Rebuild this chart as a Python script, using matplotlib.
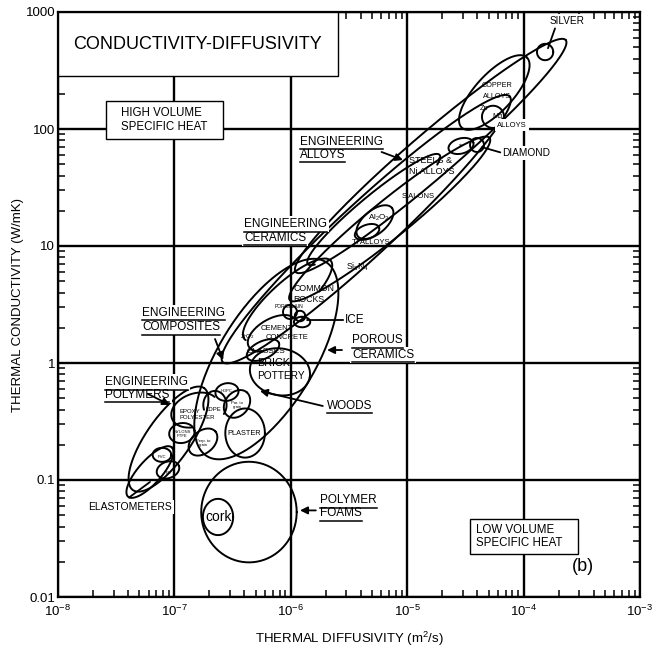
import numpy as np
import matplotlib
matplotlib.use("Agg")
import matplotlib.pyplot as plt
from matplotlib.patches import Rectangle
from matplotlib.lines import Line2D
from matplotlib.ticker import LogLocator, FixedLocator, FixedFormatter, NullFormatter

plt.rcParams["font.family"] = ["Liberation Sans", "DejaVu Sans"]
plt.rcParams["mathtext.fontset"] = "custom"
plt.rcParams["mathtext.rm"] = "Liberation Sans"
plt.rcParams["mathtext.it"] = "Liberation Sans:italic"

# ---- axis ranges and tick labels ----
x_ticks = [1e-8, 1e-7, 1e-6, 1e-5, 1e-4, 1e-3]
x_tick_labels = ["$10^{-8}$", "$10^{-7}$", "$10^{-6}$", "$10^{-5}$", "$10^{-4}$", "$10^{-3}$"]
y_ticks = [0.01, 0.1, 1, 10, 100, 1000]
y_tick_labels = ["0.01", "0.1", "1", "10", "100", "1000"]

# ---- elongated envelopes: (diffusivity, conductivity) at both ends, half-width in decades ----
env_names = ["alloys", "composites", "ceramics", "porous", "polymers", "elastomers", "rocks", "steels"]
env_a1 = [1.1e-6, 2.6e-7, 9.8e-7, 1.9e-7, 4.4e-8, 4.0e-8, 4.0e-7, 1.4e-6]
env_k1 = [6.0, 1.02, 3.45, 0.16, 0.082, 0.072, 1.6, 7.0]
env_a2 = [2.3e-4, 7.6e-5, 5.1e-5, 2.0e-6, 1.8e-7, 9.5e-8, 2.2e-6, 1.9e-5]
env_k2 = [576.0, 190.0, 84.0, 7.3, 0.61, 0.19, 7.5, 60.0]
env_hw = [0.19, 0.23, 0.16, 0.41, 0.19, 0.10, 0.15, 0.12]
env_arc = [(0, 360), (0, 360), (0, 360), (0, 360), (0, 360), (0, 360), (-60, 185), (-25, 200)]

# ---- single-material bubbles: centre, semi-axes (decades), tilt ----
bub_names = ["silver", "copper", "mg", "sic", "diamond", "al2o3", "ti",
             "brick", "glasses", "cement", "porcelain1", "porcelain2", "ice",
             "pvc", "ps", "nylon", "epoxy", "ldpe", "hdpe", "par", "perp", "plaster",
             "foams", "cork"]
bub_a = [1.53e-4, 5.6e-5, 5.46e-5, 2.9e-5, 3.98e-5, 5.28e-6, 4.52e-6,
         8.07e-7, 5.77e-7, 6.89e-7, 9.84e-7, 1.2e-6, 1.25e-6,
         7.82e-8, 8.81e-8, 1.16e-7, 1.50e-7, 2.23e-7, 2.83e-7, 3.45e-7, 1.76e-7, 4.05e-7,
         4.37e-7, 2.37e-7]
bub_k = [455.0, 205.0, 127.0, 71.6, 73.0, 16.0, 13.2,
         0.84, 1.29, 1.80, 2.73, 2.52, 2.24,
         0.164, 0.122, 0.252, 0.396, 0.438, 0.565, 0.447, 0.211, 0.252,
         0.0532, 0.0483]
bub_ra = [0.07, 0.41, 0.095, 0.11, 0.06, 0.19, 0.11,
          0.26, 0.15, 0.23, 0.06, 0.045, 0.045,
          0.08, 0.10, 0.11, 0.21, 0.10, 0.10, 0.13, 0.14, 0.17,
          0.41, 0.13]
bub_rb = [0.07, 0.16, 0.095, 0.065, 0.06, 0.10, 0.06,
          0.20, 0.075, 0.12, 0.06, 0.045, 0.07,
          0.06, 0.07, 0.085, 0.14, 0.12, 0.075, 0.10, 0.095, 0.21,
          0.43, 0.155]
bub_tilt = [0, 47, 0, 15, 0, 40, 20,
            -10, 25, 30, 0, 0, 90,
            0, 20, 10, 20, 0, 10, 50, 40, 0,
            0, 0]
bub_arc = [(0, 360)] * len(bub_names)
bub_arc[bub_names.index("epoxy")] = (20, 250)
bub_arc[bub_names.index("ldpe")] = (-40, 200)
bub_arc[bub_names.index("cement")] = (0, 230)

LW = 1.4


def log_ellipse(ax, xc, yc, a, b, tilt, arc=(0, 360)):
    t = np.radians(np.linspace(arc[0], arc[1], 240))
    c, s = np.cos(np.radians(tilt)), np.sin(np.radians(tilt))
    u, v = a * np.cos(t), b * np.sin(t)
    lx = np.log10(xc) + u * c - v * s
    ly = np.log10(yc) + u * s + v * c
    ax.plot(10 ** lx, 10 ** ly, color="black", lw=LW, zorder=4, solid_capstyle="round")


def envelope(ax, a1, k1, a2, k2, hw, arc):
    x1, y1, x2, y2 = np.log10([a1, k1, a2, k2])
    xc, yc = (x1 + x2) / 2, (y1 + y2) / 2
    half = np.hypot(x2 - x1, y2 - y1) / 2
    tilt = np.degrees(np.arctan2(y2 - y1, x2 - x1))
    log_ellipse(ax, 10 ** xc, 10 ** yc, half, hw, tilt, arc)


fig = plt.figure(figsize=(6.67, 6.52), dpi=100)
ax = fig.add_axes([58 / 667, 1 - 597 / 652, 582 / 667, 585 / 652])
ax.set_xscale("log")
ax.set_yscale("log")
ax.set_xlim(1e-8, 1e-3)
ax.set_ylim(0.01, 1000)

ax.xaxis.set_major_locator(FixedLocator(x_ticks))
ax.xaxis.set_major_formatter(FixedFormatter(x_tick_labels))
ax.yaxis.set_major_locator(FixedLocator(y_ticks))
ax.yaxis.set_major_formatter(FixedFormatter(y_tick_labels))
ax.xaxis.set_minor_locator(LogLocator(base=10, subs=np.arange(2, 10)))
ax.yaxis.set_minor_locator(LogLocator(base=10, subs=np.arange(2, 10)))
ax.xaxis.set_minor_formatter(NullFormatter())
ax.yaxis.set_minor_formatter(NullFormatter())
ax.tick_params(which="major", length=0, labelsize=9.5)
ax.tick_params(axis="x", which="major", pad=5)
ax.tick_params(axis="y", which="major", pad=2)
ax.tick_params(which="minor", direction="in", length=5, width=1.1,
               top=True, right=True, bottom=True, left=True)
for sp in ax.spines.values():
    sp.set_linewidth(1.6)
ax.grid(True, which="major", color="black", lw=1.7)
ax.set_axisbelow(True)

ax.set_xlabel("THERMAL DIFFUSIVITY (m$^2$/s)", fontsize=9.5, labelpad=8)
ax.set_ylabel("THERMAL CONDUCTIVITY (W/mK)", fontsize=9.5, labelpad=1)

for i in range(len(env_names)):
    envelope(ax, env_a1[i], env_k1[i], env_a2[i], env_k2[i], env_hw[i], env_arc[i])
for i in range(len(bub_names)):
    log_ellipse(ax, bub_a[i], bub_k[i], bub_ra[i], bub_rb[i], bub_tilt[i], bub_arc[i])

T = ax.transAxes
WHITE = dict(facecolor="white", edgecolor="none", pad=1.5)

# boxed captions
ax.add_patch(Rectangle((0, 0.8906), 0.481, 0.1094, transform=T, facecolor="white",
                       edgecolor="black", lw=1.0, zorder=6))
ax.text(0.2405, 0.9436, "CONDUCTIVITY-DIFFUSIVITY", transform=T, fontsize=13,
        ha="center", va="center", zorder=7)
ax.add_patch(Rectangle((0.0825, 0.7829), 0.201, 0.065, transform=T, facecolor="white",
                       edgecolor="black", lw=1.0, zorder=6))
ax.text(0.1082, 0.8154, "HIGH VOLUME\nSPECIFIC HEAT", transform=T, fontsize=8.3,
        ha="left", va="center", linespacing=1.15, zorder=7)
ax.add_patch(Rectangle((0.7079, 0.0735), 0.1856, 0.0598, transform=T, facecolor="white",
                       edgecolor="black", lw=1.0, zorder=6))
ax.text(0.7182, 0.1035, "LOW VOLUME\nSPECIFIC HEAT", transform=T, fontsize=8.3,
        ha="left", va="center", linespacing=1.15, zorder=7)
ax.text(0.902, 0.0513, "(b)", transform=T, fontsize=13, ha="center", va="center", zorder=7)

underlined = []


def label(x, y, s, size, bbox=True, under=False, ha="left"):
    t = ax.text(x, y, s, transform=T, fontsize=size, ha=ha, va="center", zorder=7,
                bbox=WHITE if bbox else None)
    if under:
        underlined.append(t)
    return t


def pointer(x, y, target, head=True):
    ax.annotate("", xy=target, xycoords="data", xytext=(x, y), textcoords=T,
                arrowprops=dict(arrowstyle="-|>" if head else "-", color="black",
                                lw=1.3, shrinkA=0, shrinkB=0, mutation_scale=11),
                zorder=8)


# group labels
label(0.4158, 0.7778, "ENGINEERING", 8.5, under=True)
label(0.4158, 0.7556, "ALLOYS", 8.5, under=True)
pointer(0.5560, 0.7607, (9.2e-6, 54.3))
label(0.3196, 0.6376, "ENGINEERING", 8.5, under=True)
label(0.3196, 0.6137, "CERAMICS", 8.5, under=True)
label(0.1443, 0.4855, "ENGINEERING", 8.5, under=True)
label(0.1443, 0.4615, "COMPOSITES", 8.5, under=True)
pointer(0.2698, 0.4410, (2.62e-7, 1.06))
label(0.0808, 0.3675, "ENGINEERING", 8.5, under=True)
label(0.0808, 0.3453, "POLYMERS", 8.5, under=True)
pointer(0.1546, 0.3470, (9.16e-8, 0.438))
label(0.5052, 0.4393, "POROUS", 8.5, under=True)
label(0.5052, 0.4137, "CERAMICS", 8.5, under=True)
pointer(0.4880, 0.4222, (2.05e-6, 1.29))
label(0.4622, 0.3265, "WOODS", 8.5, under=True)
pointer(0.4550, 0.3265, (5.43e-7, 0.577))
label(0.4502, 0.1650, "POLYMER", 8.5, under=True)
label(0.4502, 0.1430, "FOAMS", 8.5, under=True)
pointer(0.4430, 0.1480, (1.2e-6, 0.055))
label(0.1959, 0.1538, "ELASTOMETERS", 7.5, ha="right")
pointer(0.1220, 0.1700, (6.17e-8, 0.0962), head=False)

# material labels
label(0.8454, 0.9846, "SILVER", 7.2)
pointer(0.8540, 0.9720, (1.62e-4, 490), head=False)
label(0.7629, 0.7590, "DIAMOND", 7.3)
pointer(0.7600, 0.7600, (4.4e-5, 70), head=False)
label(0.7543, 0.8752, "COPPER", 5.2, bbox=False, ha="center")
label(0.7543, 0.8564, "ALLOYS", 5.2, bbox=False, ha="center")
label(0.7320, 0.8342, "Zn", 5.2, bbox=False, ha="center")
label(0.7543, 0.8222, "Mg", 5.2, bbox=False, ha="center")
label(0.7800, 0.8068, "ALLOYS", 5.5, ha="center")
label(0.6940, 0.7726, "sic", 3.2, bbox=False, ha="center")
label(0.6031, 0.7453, "STEELS &", 6.5, bbox=False)
label(0.6031, 0.7265, "Ni ALLOYS", 6.5, bbox=False)
label(0.5910, 0.6838, "SIALONS", 5.5, bbox=False)
label(0.5326, 0.6479, "Al$_2$O$_3$", 5.8, bbox=False)
label(0.5052, 0.6056, "Ti ALLOYS", 5.5, bbox=False)
label(0.4948, 0.5641, "Si$_3$N$_4$", 6.2, bbox=False)
label(0.4038, 0.5265, "COMMON", 6.3, bbox=False)
label(0.4038, 0.5094, "ROCKS", 6.3, bbox=False)
label(0.3729, 0.4960, "PORCELAIN", 3.6, bbox=False)
label(0.4931, 0.4735, "ICE", 8.5)
pointer(0.4900, 0.4735, (1.38e-6, 2.33), head=False)
label(0.3488, 0.4598, "CEMENT", 5.5, bbox=False)
label(0.3574, 0.4444, "CONCRETE", 5.5, bbox=False)
label(0.3127, 0.4444, "ZrO$_2$", 4.5, bbox=False)
label(0.3247, 0.4205, "GLASSES", 6.0, bbox=False)
label(0.3419, 0.4000, "BRICK", 7.8, bbox=False)
label(0.3419, 0.3778, "POTTERY", 7.3, bbox=False)
label(0.2904, 0.3521, "HDPC", 3.0, bbox=False, ha="center")
label(0.2663, 0.3197, "LDPE", 4.3, bbox=False, ha="center")
label(0.2096, 0.3179, "EPOXY", 4.3, bbox=False)
label(0.2096, 0.3060, "POLYESTER", 4.3, bbox=False)
label(0.2131, 0.2786, "NYLONS\nPTFE", 3.0, bbox=False, ha="center")
label(0.3076, 0.3282, "Par. to\ngrain", 3.0, bbox=False, ha="center")
label(0.2491, 0.2632, "Perp. to\ngrain", 3.0, bbox=False, ha="center")
label(0.3196, 0.2803, "PLASTER", 5.3, bbox=False, ha="center")
label(0.1787, 0.2393, "PVC", 3.0, bbox=False, ha="center")
label(0.1890, 0.2120, "PS", 3.0, bbox=False, ha="center")
label(0.2766, 0.1368, "cork", 10, bbox=False, ha="center")

# underline the group captions
fig.canvas.draw()
r = fig.canvas.get_renderer()
for t in underlined:
    bb = t.get_window_extent(r)
    y = bb.y0 - 1.5
    fig.add_artist(Line2D([bb.x0 / fig.dpi / fig.get_figwidth(), bb.x1 / fig.dpi / fig.get_figwidth()],
                          [y / fig.dpi / fig.get_figheight()] * 2,
                          transform=fig.transFigure, color="black", lw=1.1, zorder=9))

fig.savefig("out.png", dpi=100)
